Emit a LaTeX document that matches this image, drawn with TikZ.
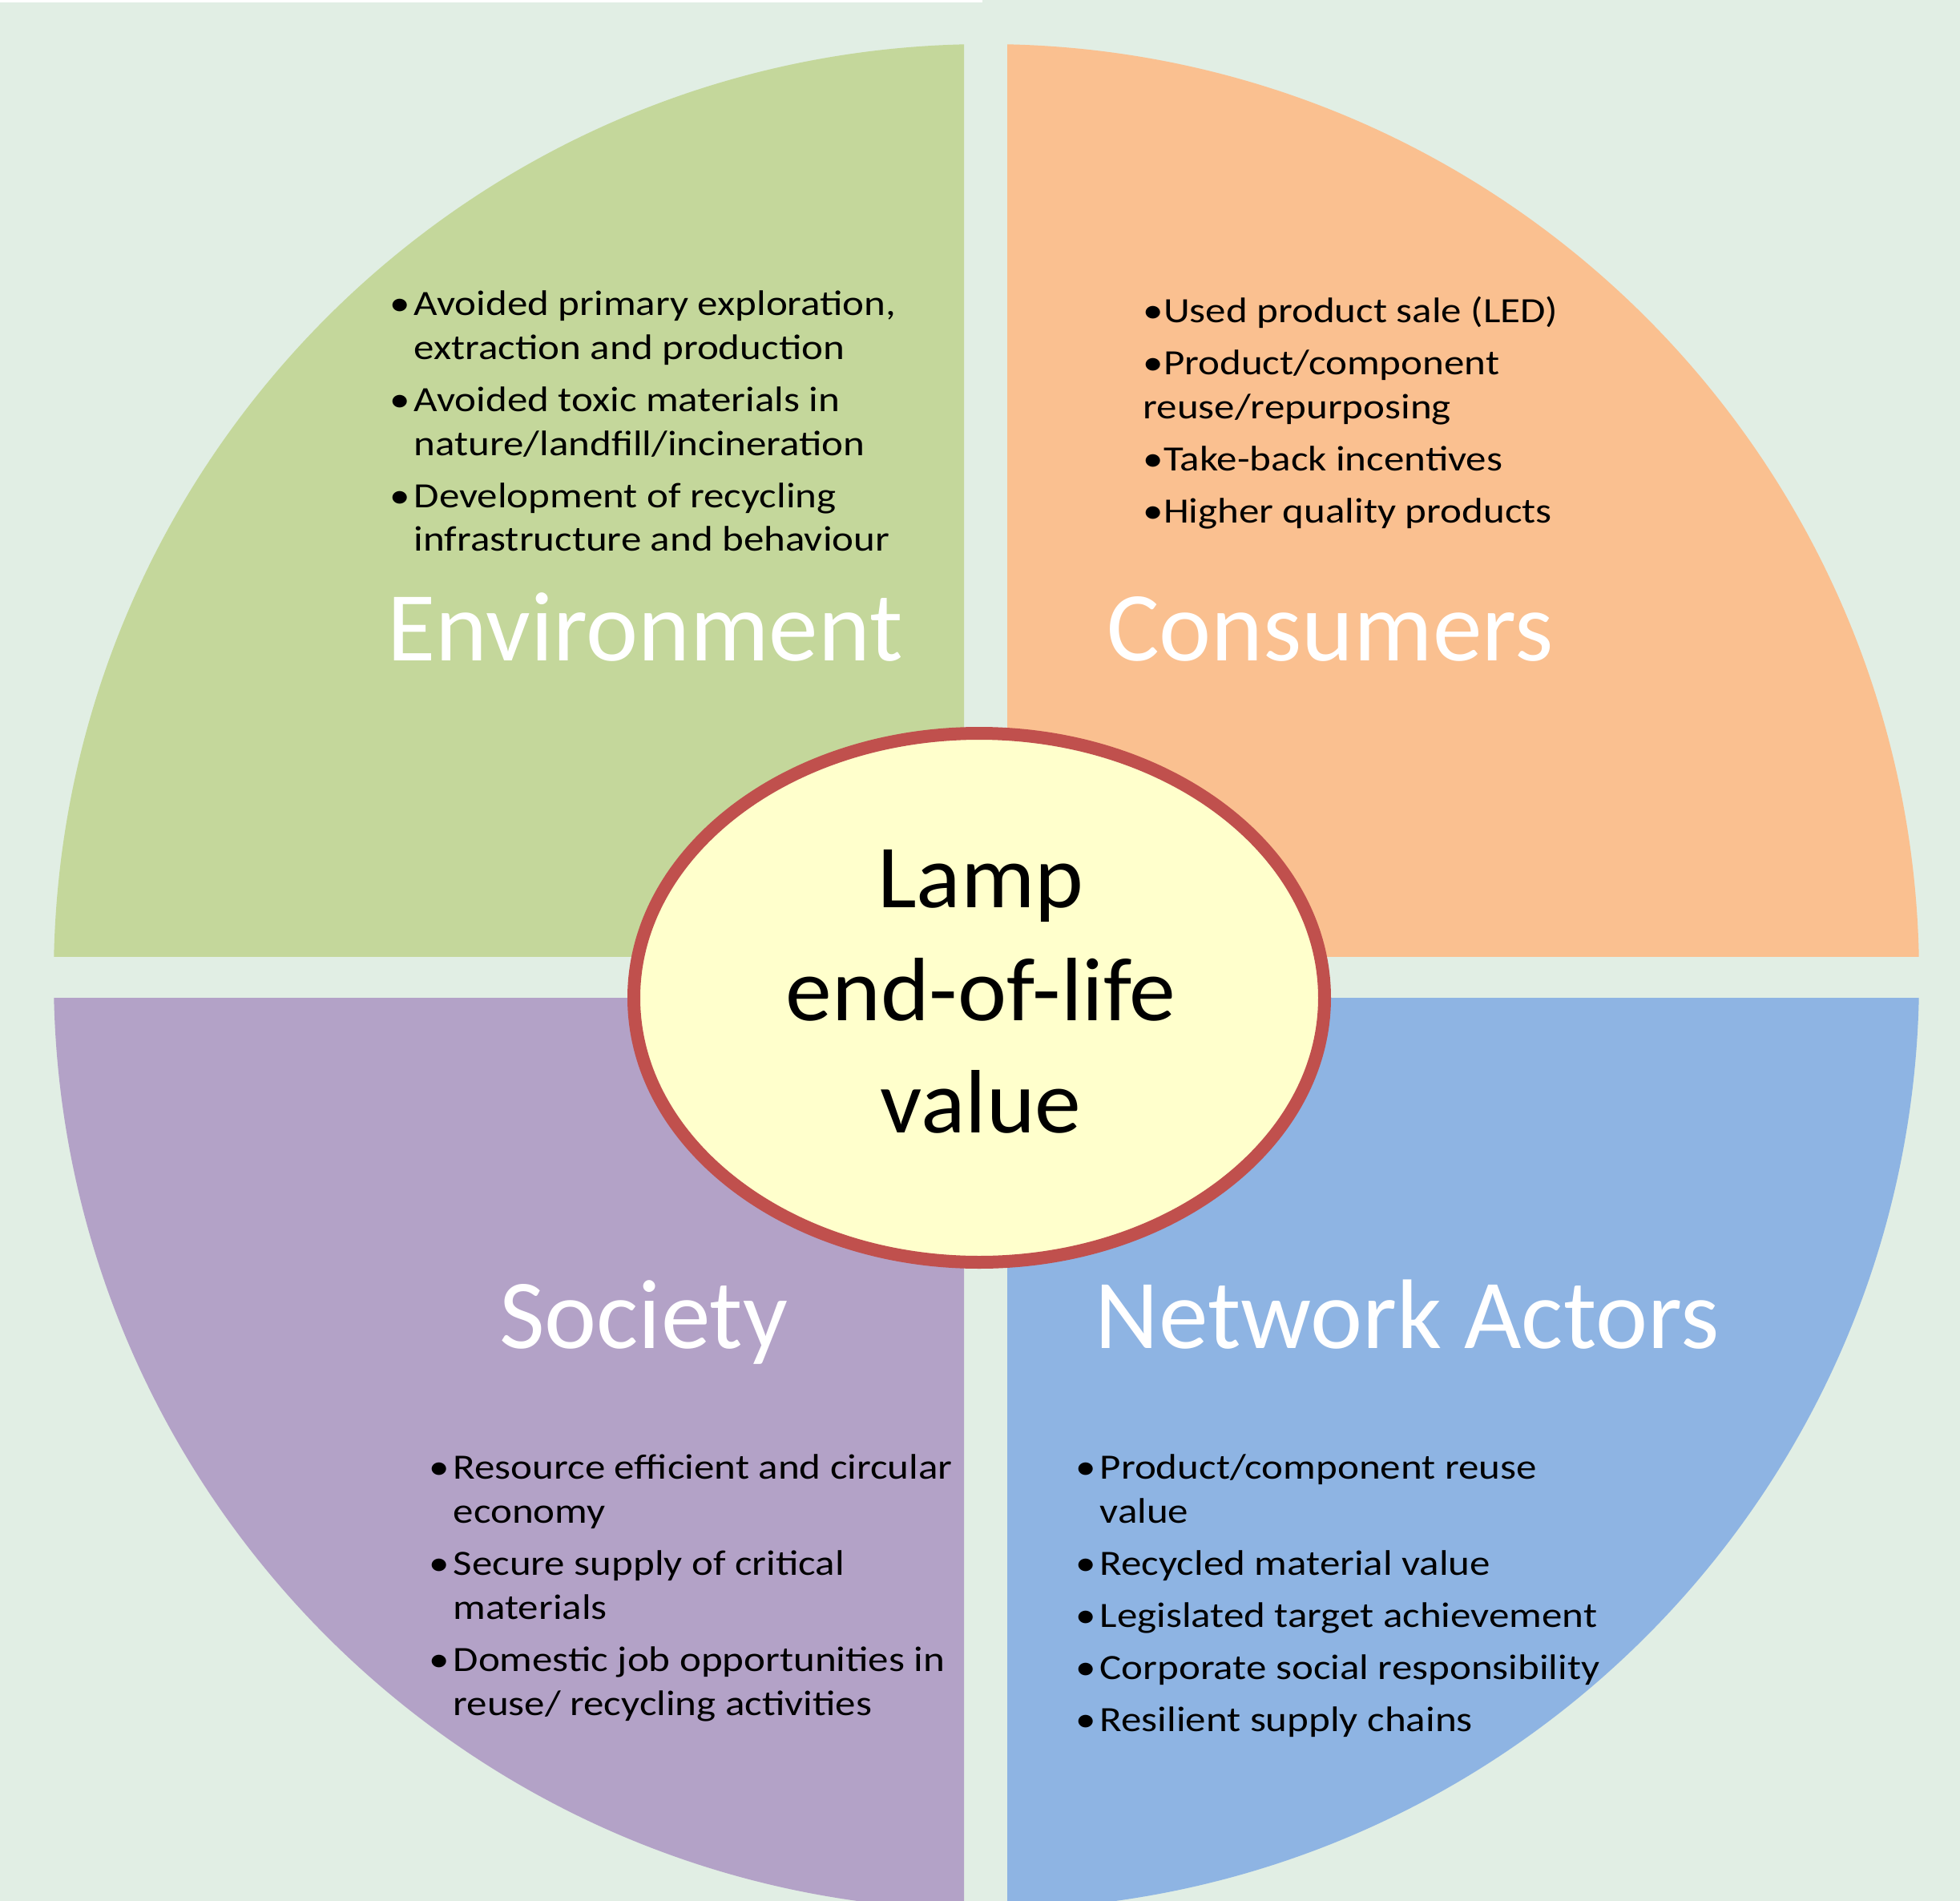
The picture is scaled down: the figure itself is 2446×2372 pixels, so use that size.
\documentclass[tikz,border=0pt]{standalone}
\usepackage{fontspec}
\setmainfont{Carlito}
\newfontfamily\listfont[FakeStretch=1.15]{Carlito}
\newfontfamily\corefont[FakeStretch=1.03]{Carlito}
\definecolor{bgc}{HTML}{E1EEE4}
\definecolor{envc}{HTML}{C4D79B}
\definecolor{conc}{HTML}{FAC090}
\definecolor{socc}{HTML}{B3A2C7}
\definecolor{netc}{HTML}{8EB4E3}
\definecolor{rimc}{HTML}{C0504D}
\definecolor{corec}{HTML}{FFFFCC}
\newcommand{\bfont}{\listfont\fontsize{13.3}{16.5}\selectfont}
\newcommand{\bl}{\textbullet}
\tikzset{
  title/.style={text=white, font=\fontsize{37}{44}\selectfont, anchor=base, inner sep=0pt},
  blist/.style={anchor=base west, inner sep=0pt, font=\bfont, align=left},
  core/.style={ellipse, draw=rimc, fill=corec, line width=4.8pt, minimum width=258.6pt, minimum height=198pt, inner sep=0pt},
  coretext/.style={anchor=base, inner sep=0pt, font=\corefont\fontsize{33.7}{42}\selectfont}
}
\usetikzlibrary{shapes.geometric}
\begin{document}
\begin{tikzpicture}[x=0.3pt, y=-0.3pt]
\useasboundingbox (0,0) rectangle (2446,2372);
\fill[bgc] (0,0) rectangle (2446,2372);
\fill[white] (0,0) rectangle (1226,3);
% quadrants
\begin{scope}
  \clip (0,0) rectangle (1203,1193);
  \fill[envc] (1231,1219) circle[radius=349.2pt];
\end{scope}
\begin{scope}
  \clip (1257,0) rectangle (2446,1193);
  \fill[conc] (1231,1219) circle[radius=349.2pt];
\end{scope}
\begin{scope}
  \clip (0,1245) rectangle (1203,2372);
  \fill[socc] (1231,1219) circle[radius=349.2pt];
\end{scope}
\begin{scope}
  \clip (1257,1245) rectangle (2446,2372);
  \fill[netc] (1231,1219) circle[radius=349.2pt];
\end{scope}
% titles
\node[title] (tenv) at (805,824) {Environment};
\node[title] (tcon) at (1660,824) {Consumers};
\node[title] (tsoc) at (803,1682) {Society};
\node[title] (tnet) at (1756,1682) {Network Actors};
% bullet lists
\node[blist] (lenv) at (486,393) {\begin{tabular}[t]{@{}p{9pt}@{}l@{}}
\bl & Avoided primary exploration,\\ & extraction and production\\[3pt]
\bl & Avoided toxic materials in\\ & nature/landfill/incineration\\[3pt]
\bl & Development of recycling\\ & infrastructure and behaviour
\end{tabular}};
\node[blist] (lcon) at (1426,402) {\begin{tabular}[t]{@{}l@{}}
\bl Used product sale (LED)\\[3pt]
\bl Product/component\\ reuse/repurposing\\[3pt]
\bl Take-back incentives\\[3pt]
\bl Higher quality products
\end{tabular}};
\node[blist] (lsoc) at (535,1845) {\begin{tabular}[t]{@{}p{9pt}@{}l@{}}
\bl & Resource efficient and circular\\ & economy\\[3pt]
\bl & Secure supply of critical\\ & materials\\[3pt]
\bl & Domestic job opportunities in\\ & reuse/ recycling activities
\end{tabular}};
\node[blist] (lnet) at (1342,1845) {\begin{tabular}[t]{@{}p{9pt}@{}l@{}}
\bl & Product/component reuse\\ & value\\[3pt]
\bl & Recycled material value\\[3pt]
\bl & Legislated target achievement\\[3pt]
\bl & Corporate social responsibility\\[3pt]
\bl & Resilient supply chains
\end{tabular}};
% core
\node[core] (core) at (1222,1245) {};
\node[coretext] (c1) at (1224,1132) {Lamp};
\node[coretext] (c2) at (1224,1273) {end-of-life};
\node[coretext] (c3) at (1224,1413) {value};
\end{tikzpicture}
\end{document}
